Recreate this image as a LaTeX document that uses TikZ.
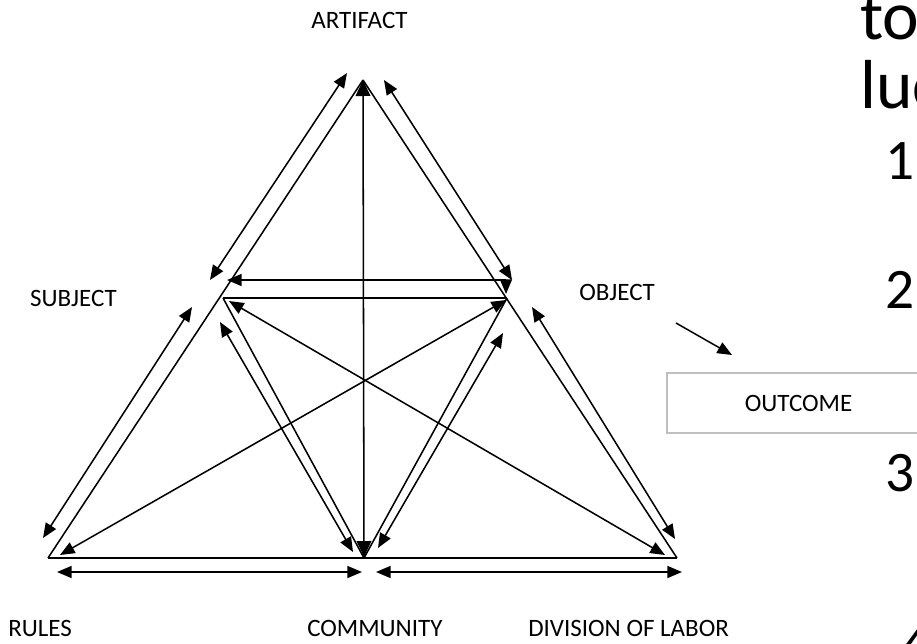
\documentclass[tikz,border=0pt]{standalone}
\usepackage{fontspec}
\setmainfont{Carlito}
\usetikzlibrary{arrows.meta}
\begin{document}
\begin{tikzpicture}[x=0.75pt,y=-0.75pt,
  ln/.style={line width=1.15pt, black},
  dbl/.style={ln, {Triangle[length=11pt,width=9pt]}-{Triangle[length=11pt,width=9pt]}},
  dblbig/.style={ln, {Triangle[length=12pt,width=11pt]}-{Triangle[length=12pt,width=11pt]}},
  sgl/.style={ln, -{Triangle[length=11pt,width=9pt]}},
  lbl/.style={font=\fontsize{18.75}{22}\selectfont, inner sep=0pt},
  bigtxt/.style={font=\fontsize{52}{60}\selectfont, inner sep=0pt},
  numtxt/.style={font=\fontsize{43}{50}\selectfont, inner sep=0pt},
  outbox/.style={draw={rgb,255:red,191;green,191;blue,191}, line width=1.2pt, minimum width=263*0.75pt, minimum height=60*0.75pt, inner sep=0pt, font=\fontsize{18.75}{22}\selectfont}
]
\useasboundingbox (0,0) rectangle (917,643);
\clip (0,0) rectangle (917,643);

% vertices
\coordinate (A) at (363,80);
\coordinate (S) at (223,298);
\coordinate (O) at (507,298);
\coordinate (R) at (48,558);
\coordinate (C) at (364,558);
\coordinate (D) at (677,558);

% plain edges
\draw[ln] (R) -- (A);
\draw[ln] (A) -- (D);
\draw[ln] (R) -- (D);
\draw[ln] (S) -- (O);
\draw[ln] (S) -- (C);
\draw[ln] (O) -- (C);

% tips of parallel arrows
\coordinate (ula) at (210,280);  \coordinate (ulb) at (347,73);
\coordinate (ura) at (384,80);   \coordinate (urb) at (512,280);
\coordinate (lla) at (192,307);  \coordinate (llb) at (43,538);
\coordinate (lra) at (532,307);  \coordinate (lrb) at (675,539);
\coordinate (bla) at (57,572);   \coordinate (blb) at (362,572);
\coordinate (bra) at (376,572);  \coordinate (brb) at (682,572);
\coordinate (sca) at (220,322);  \coordinate (scb) at (353,552);
\coordinate (oca) at (503,333);  \coordinate (ocb) at (378,548);
\coordinate (ela) at (227,280);  \coordinate (elb) at (506,294);
\coordinate (vta) at (364,557);  \coordinate (vtb) at (363,80);
\coordinate (roa) at (60,555);   \coordinate (rob) at (506,300);
\coordinate (dsa) at (665,555);  \coordinate (dsb) at (229,301);

\draw[dbl] (ula) -- (ulb);
\draw[dbl] (ura) -- (urb);
\draw[dbl] (lla) -- (llb);
\draw[dbl] (lra) -- (lrb);
\draw[dbl] (bla) -- (blb);
\draw[dbl] (bra) -- (brb);
\draw[dbl] (sca) -- (scb);
\draw[dbl] (oca) -- (ocb);
\draw[dbl] (ela) -| (elb);
\draw[dblbig] (vta) -- (vtb);
\draw[dbl] (roa) -- (rob);
\draw[dbl] (dsa) -- (dsb);

% labels
\node[lbl, anchor=base] (artifact) at (359.5,28) {ARTIFACT};
\node[lbl, anchor=base east] (subject) at (117,306) {SUBJECT};
\node[lbl, anchor=base west] (object) at (579,300) {OBJECT};
\node[lbl, anchor=base west] (rules) at (8,636) {RULES};
\node[lbl, anchor=base west] (community) at (307,636) {COMMUNITY};
\node[lbl, anchor=base west] (division) at (528,636) {DIVISION OF LABOR};

% outcome
\node[outbox] (outcome) at (798.5,403) {OUTCOME};
\coordinate (oa) at (676,323);
\coordinate (ob) at (732,355);
\draw[sgl] (oa) -- (ob);

% clipped slide text at right
\node[bigtxt, anchor=base west] (t1) at (860,39) {to};
\node[bigtxt, anchor=base west] (t2) at (860,108) {luc};
\node[numtxt, anchor=base west] (n1) at (885,179) {1.};
\node[numtxt, anchor=base west] (n2) at (885,308) {2.};
\node[numtxt, anchor=base west] (n3) at (885,491) {3.};
\node[numtxt, anchor=base west] (n4) at (903,660) {4};
\end{tikzpicture}
\end{document}
